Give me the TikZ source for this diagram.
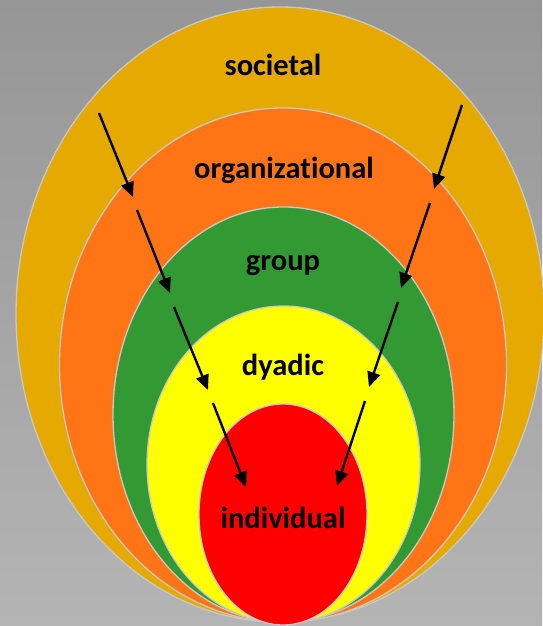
\documentclass[tikz,border=0pt]{standalone}
\usepackage{fontspec}
\setmainfont{Carlito}[Ligatures=NoCommon]
\usetikzlibrary{shapes.geometric,arrows.meta}
\definecolor{societalc}{RGB}{229,169,0}
\definecolor{orgc}{RGB}{255,117,22}
\definecolor{groupc}{RGB}{51,153,51}
\definecolor{dyadc}{RGB}{255,255,0}
\definecolor{indc}{RGB}{255,0,0}
\definecolor{rimc}{RGB}{200,200,200}
\definecolor{bgtop}{RGB}{150,150,150}
\definecolor{bgbot}{RGB}{180,180,180}
\tikzset{
  ring/.style={ellipse, draw=rimc, line width=1.3pt, inner sep=0pt},
  lab/.style={font=\bfseries\fontsize{30.5}{32}\selectfont, text=black, inner sep=0pt, anchor=base},
  flow/.style={line width=2.4pt, -{Triangle[length=15pt,width=13pt]}},
}
\begin{document}
\begin{tikzpicture}[x=1pt,y=-1pt]
  % backdrop
  \shade[top color=bgtop, bottom color=bgbot] (0,0) rectangle (542,626);
  \useasboundingbox (0,0) rectangle (542,626);
  % nested levels, all resting on the bottom edge
  \node[ring, fill=societalc, minimum width=528pt, minimum height=615pt] (soc) at (280,314.5) {};
  \node[ring, fill=orgc,      minimum width=447pt, minimum height=514pt] (org) at (283,365) {};
  \node[ring, fill=groupc,    minimum width=341pt, minimum height=415pt] (grp) at (283.5,414.5) {};
  \node[ring, fill=dyadc,     minimum width=273pt, minimum height=317pt] (dya) at (283.5,464.5) {};
  \node[ring, fill=indc,      minimum width=168pt, minimum height=221pt] (ind) at (283,514.5) {};
  % level names, placed by their baselines
  \node[lab] (tsoc) at (273,75)  {societal};
  \node[lab] (torg) at (284,178) {organizational};
  \node[lab] (tgrp) at (283,270) {group};
  \node[lab] (tdya) at (283,375) {dyadic};
  \node[lab] (tind) at (283,528) {individual};
  % left chain of influence
  \coordinate (l1s) at (99,113);  \coordinate (l1e) at (133,197);
  \coordinate (l2s) at (137,210); \coordinate (l2e) at (170,293);
  \coordinate (l3s) at (174,307); \coordinate (l3e) at (208,390);
  \coordinate (l4s) at (213,403); \coordinate (l4e) at (246,487);
  % right chain of influence
  \coordinate (r1s) at (462,105); \coordinate (r1e) at (434,189);
  \coordinate (r2s) at (430,203); \coordinate (r2e) at (401,288);
  \coordinate (r3s) at (398,302); \coordinate (r3e) at (369,387);
  \coordinate (r4s) at (365,401); \coordinate (r4e) at (337,486);
  \foreach \a/\b in {l1s/l1e,l2s/l2e,l3s/l3e,l4s/l4e,r1s/r1e,r2s/r2e,r3s/r3e,r4s/r4e}
    \draw[flow] (\a) -- (\b);
\end{tikzpicture}
\end{document}
